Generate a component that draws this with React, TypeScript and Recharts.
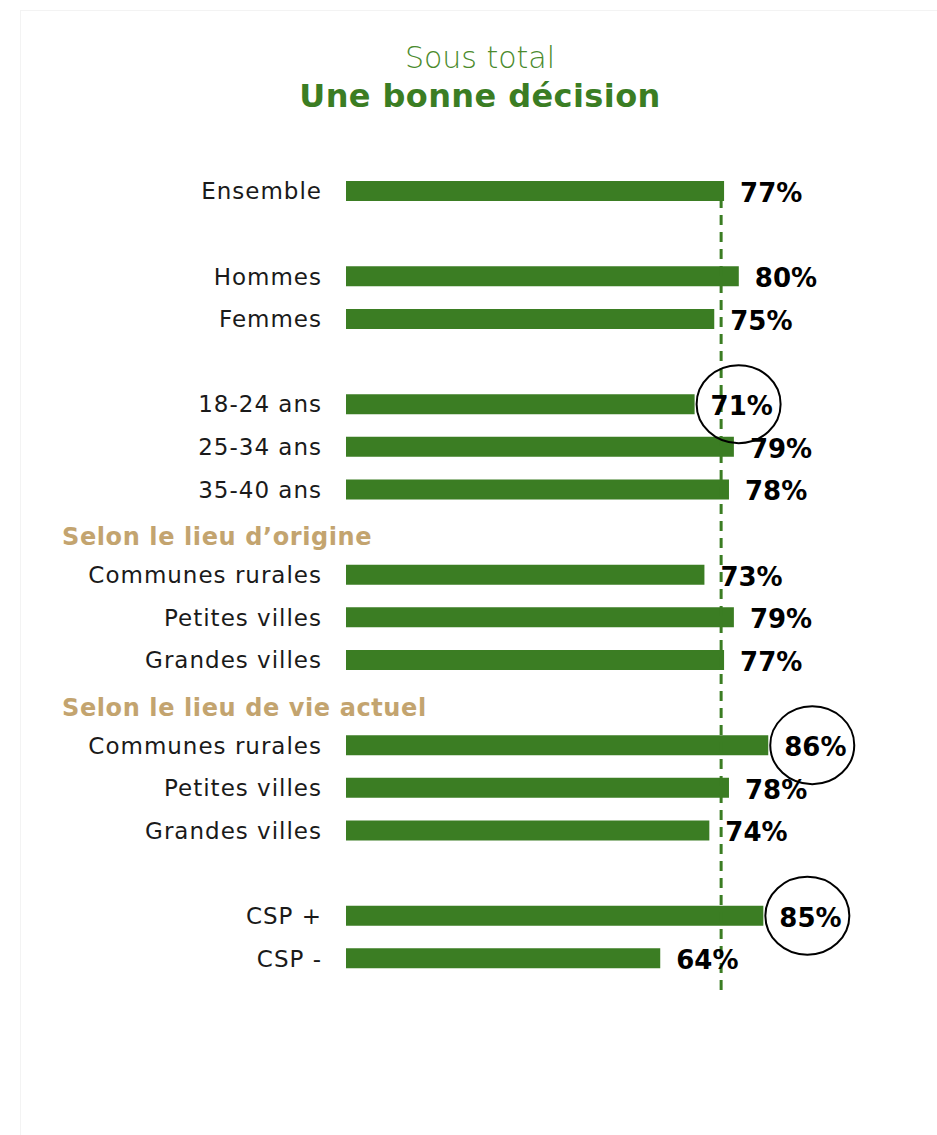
import React from 'react';
import { BarChart, Bar, XAxis, YAxis, ReferenceLine, LabelList } from 'recharts';

const rowLabels = [
  'Ensemble', '', 'Hommes', 'Femmes', '', '18-24 ans', '25-34 ans', '35-40 ans',
  'Selon le lieu d’origine', 'Communes rurales', 'Petites villes', 'Grandes villes',
  'Selon le lieu de vie actuel', 'Communes rurales', 'Petites villes', 'Grandes villes',
  '', 'CSP +', 'CSP -',
];
const rowIsHeading = [
  false, false, false, false, false, false, false, false,
  true, false, false, false,
  true, false, false, false,
  false, false, false,
];
const values: (number | null)[] = [
  77, null, 80, 75, null, 71, 79, 78,
  null, 73, 79, 77,
  null, 86, 78, 74,
  null, 85, 64,
];
const circled = [
  false, false, false, false, false, true, false, false,
  false, false, false, false,
  false, true, false, false,
  false, true, false,
];
const referenceValue = 76.4;

const data = rowLabels.map((label, i) => ({
  key: `r${i}`,
  label,
  value: values[i],
  circleValue: circled[i] ? values[i] : null,
}));

const GREEN = '#3b7d23';
const TAN = '#c3a46f';

const Tick = (props: any) => {
  const { x, y, index } = props;
  const label = rowLabels[index];
  if (!label) return null;
  if (rowIsHeading[index]) {
    return (
      <text x={62} y={y + 5} dominantBaseline="central" textAnchor="start"
        fontFamily="'DejaVu Sans', sans-serif" fontWeight={700} fontSize={24} fill={TAN} letterSpacing={0.6}>
        {label}
      </text>
    );
  }
  return (
    <text x={x} y={y} dominantBaseline="central" textAnchor="end"
      fontFamily="'DejaVu Sans', sans-serif" fontSize={23} fill="#1a1a1a" letterSpacing={1}>
      {label}
    </text>
  );
};

const ValueLabel = (props: any) => {
  const { x, y, width, height, value } = props;
  if (value == null) return null;
  const tx = x + width + 16;
  const cy = y + height / 2;
  return (
    <text x={tx} y={cy + 2} dominantBaseline="central" textAnchor="start"
      fontFamily="'DejaVu Sans', sans-serif" fontWeight={700} fontSize={26} fill="#000">
      {`${value}%`}
    </text>
  );
};

const CircleMark = (props: any) => {
  const { x, y, width, height, value } = props;
  if (value == null) return null;
  const cy = y + height / 2;
  return (
    <ellipse cx={x + width + 44} cy={cy} rx={42} ry={39} fill="none" stroke="#000" strokeWidth={2} />
  );
};

const RefShape = (props: any) => {
  const { x1, y1, x2, y2 } = props;
  return (
    <line x1={x1} y1={y1 + 10} x2={x2} y2={y2 + 30} stroke={GREEN} strokeWidth={3} strokeDasharray="10 7" />
  );
};

export default function App() {
  return (
    <div style={{ position: 'absolute', left: 0, top: 0, width: 937, height: 1135, background: '#fff', overflow: 'hidden' }}>
      <div style={{ position: 'absolute', left: 20, top: 10, width: 930, height: 1140, border: '1px solid #f3f3f3', boxSizing: 'border-box' }} />
      <div style={{ position: 'absolute', left: 0, top: 40, width: 960, textAlign: 'center', fontFamily: "'DejaVu Sans', sans-serif", fontWeight: 200, fontSize: 30, color: '#4a8a2c' }}>
        Sous total
      </div>
      <div style={{ position: 'absolute', left: 0, top: 77, width: 960, textAlign: 'center', fontFamily: "'DejaVu Sans', sans-serif", fontWeight: 700, fontSize: 32, letterSpacing: 0.4, color: GREEN }}>
        Une bonne décision
      </div>
      <div style={{ position: 'absolute', left: 0, top: 0 }}>
        <BarChart width={937} height={1135} data={data} layout="vertical"
          margin={{ top: 170, right: 100, bottom: 155, left: 0 }} barCategoryGap={0}>
          <XAxis type="number" domain={[0, 100]} hide />
          <YAxis type="category" dataKey="key" width={346} tick={<Tick />} tickLine={false}
            axisLine={false} tickSize={0} tickMargin={24} interval={0} />
          <Bar dataKey="value" fill={GREEN} barSize={20} isAnimationActive={false}>
            <LabelList dataKey="value" content={<ValueLabel />} />
            <LabelList dataKey="circleValue" content={<CircleMark />} />
          </Bar>
          <ReferenceLine x={referenceValue} shape={<RefShape />} ifOverflow="visible" />
        </BarChart>
      </div>
    </div>
  );
}
